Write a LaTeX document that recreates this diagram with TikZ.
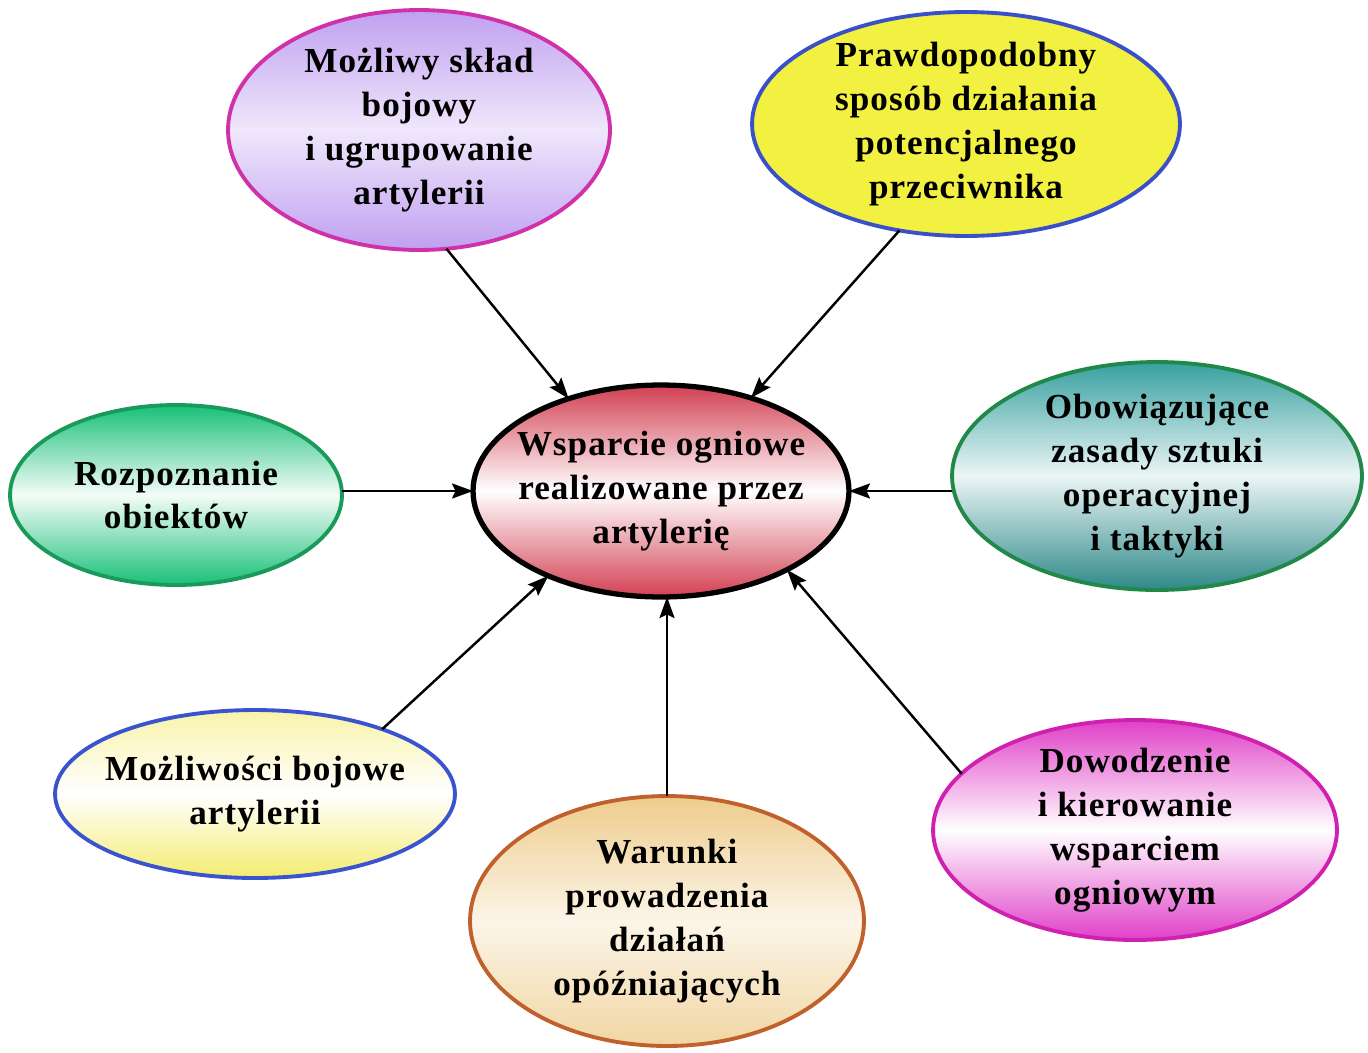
\documentclass[tikz,border=0pt]{standalone}
\usepackage{fontspec}
\setmainfont{Liberation Serif}[LetterSpace=3]
\usetikzlibrary{shapes.geometric,arrows.meta}
\definecolor{lilacB}{HTML}{D030A8}
\definecolor{lilacF}{HTML}{C0A0F0}
\definecolor{lemonB}{HTML}{3A50C8}
\definecolor{lemonF}{HTML}{F2F040}
\definecolor{rubyF}{HTML}{D24052}
\definecolor{tealB}{HTML}{208848}
\definecolor{tealF}{HTML}{38A0A0}
\definecolor{tealD}{HTML}{2E8888}
\definecolor{mintB}{HTML}{1A9A5A}
\definecolor{mintF}{HTML}{18C078}
\definecolor{paleB}{HTML}{3A54D0}
\definecolor{paleF}{HTML}{F4EC70}
\definecolor{rustB}{HTML}{C0602C}
\definecolor{rustF}{HTML}{EECC8C}
\definecolor{pinkB}{HTML}{D020B0}
\definecolor{pinkF}{HTML}{E040C8}
\begin{document}
\begin{tikzpicture}[x=0.02cm,y=-0.02cm,
  bubble/.style={ellipse, draw, line width=2.2pt, inner sep=-40pt, outer sep=0pt,
    align=center, font=\fontsize{20}{25}\selectfont\bfseries},
  link/.style={line width=1.4pt, -{Stealth[length=0.42cm,width=0.3cm,inset=0.07cm]}},
]
\useasboundingbox[fill=white] (0,0) rectangle (1368,1052);

% central topic
\node[bubble, line width=3pt, minimum width=7.52cm, minimum height=4.24cm,
  top color=rubyF, bottom color=rubyF, middle color=white] (c) at (661,491)
  {Wsparcie ogniowe\\realizowane przez\\artylerię};

% surrounding factors
\node[bubble, draw=lilacB, minimum width=7.64cm, minimum height=4.8cm,
  top color=lilacF, bottom color=lilacF, middle color=lilacF!25] (pa) at (419,130)
  {Możliwy skład\\bojowy\\i ugrupowanie\\artylerii};
\node[bubble, draw=lemonB, fill=lemonF, minimum width=8.56cm, minimum height=4.48cm]
  (py) at (966,124)
  {Prawdopodobny\\sposób działania\\potencjalnego\\przeciwnika};
\node[bubble, draw=tealB, minimum width=8.2cm, minimum height=4.56cm,
  top color=tealF, bottom color=tealD, middle color=tealF!10] (pt) at (1157,476)
  {Obowiązujące\\zasady sztuki\\operacyjnej\\i taktyki};
\node[bubble, draw=mintB, minimum width=6.64cm, minimum height=3.6cm,
  top color=mintF, bottom color=mintF, middle color=mintF!5] (pg) at (176,495)
  {Rozpoznanie\\obiektów};
\node[bubble, draw=paleB, minimum width=8.0cm, minimum height=3.36cm,
  top color=paleF!60, bottom color=paleF, middle color=white] (pb) at (255,794)
  {Możliwości bojowe\\artylerii};
\node[bubble, draw=rustB, minimum width=7.88cm, minimum height=5.0cm,
  top color=rustF, bottom color=rustF!80, middle color=rustF!20] (po) at (667,921)
  {Warunki\\prowadzenia\\działań\\opóźniających};
\node[bubble, draw=pinkB, minimum width=8.08cm, minimum height=4.4cm,
  top color=pinkF, bottom color=pinkF, middle color=white] (pm) at (1135,830)
  {Dowodzenie\\i kierowanie\\wsparciem\\ogniowym};

% influences pointing at the central topic
\draw[link] (pa.-77) -- (c.135);
\draw[link] (py.238) -- (c.46);
\draw[link] (c.west -| pg.east) -- (c.west);
\draw[link] (c.east -| pt.west) -- (c.east);
\draw[link] (pb.27) -- (c.217);
\draw[link] (po.north) -- (po.north |- c.south);
\draw[link] (pm.162) -- (c.-32);
\end{tikzpicture}
\end{document}
